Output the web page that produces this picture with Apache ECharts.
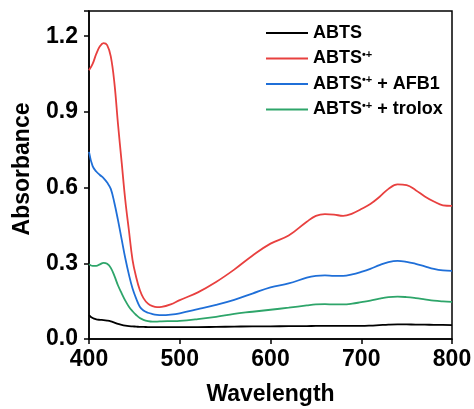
<!DOCTYPE html>
<html><head><meta charset="utf-8">
<script src="https://cdn.jsdelivr.net/npm/echarts@6/dist/echarts.min.js"></script>
<style>html,body{margin:0;padding:0;background:#fff}#c{width:474px;height:409px}</style>
</head><body><div id="c"></div>
<script>
const wavelength = [400,404,408,412,416,420,424,428,432,436,440,444,448,452,456,460,465,470,475,480,490,500,520,540,560,580,600,620,640,650,660,670,680,690,700,710,720,730,740,750,760,770,780,790,800];
const abts = [0.095,0.083,0.078,0.076,0.075,0.073,0.070,0.065,0.060,0.056,0.053,0.051,0.050,0.049,0.048,0.048,0.047,0.047,0.047,0.047,0.047,0.047,0.047,0.048,0.049,0.050,0.050,0.051,0.051,0.052,0.052,0.052,0.052,0.052,0.052,0.053,0.055,0.057,0.058,0.058,0.057,0.057,0.056,0.056,0.055];
const abtsRad = [1.065,1.09,1.13,1.16,1.173,1.165,1.12,1.014,0.85,0.70,0.55,0.43,0.313,0.245,0.194,0.162,0.140,0.130,0.126,0.127,0.137,0.154,0.185,0.226,0.275,0.330,0.378,0.410,0.465,0.488,0.495,0.493,0.488,0.497,0.515,0.535,0.563,0.595,0.613,0.610,0.590,0.565,0.545,0.530,0.528];
const abtsAfb1 = [0.742,0.685,0.664,0.650,0.638,0.620,0.595,0.539,0.470,0.395,0.320,0.255,0.200,0.160,0.128,0.113,0.104,0.099,0.096,0.095,0.097,0.102,0.118,0.135,0.155,0.180,0.205,0.220,0.243,0.250,0.252,0.250,0.250,0.256,0.266,0.278,0.293,0.305,0.310,0.306,0.298,0.288,0.278,0.272,0.270];
const abtsTrolox = [0.297,0.290,0.290,0.296,0.302,0.298,0.282,0.250,0.212,0.181,0.152,0.128,0.110,0.095,0.083,0.076,0.071,0.069,0.069,0.070,0.071,0.072,0.079,0.088,0.100,0.108,0.116,0.124,0.133,0.137,0.138,0.137,0.137,0.140,0.146,0.152,0.160,0.166,0.168,0.166,0.162,0.157,0.152,0.149,0.147];
const names = ['ABTS','ABTS•+','ABTS•+ + AFB1','ABTS•+ + trolox'];
const colors = ['#000000','#e8403f','#1f6fd8','#2ea56a'];
const xTicks = [400,500,600,700,800];
const yTicks = [0.0,0.3,0.6,0.9,1.2];

const ys = [abts, abtsRad, abtsAfb1, abtsTrolox];
const chart = echarts.init(document.getElementById('c'));
const font = 'Liberation Sans, Arial, sans-serif';
chart.setOption({
  animation:false,
  grid:{left:89,right:22,top:11,bottom:70,show:true,borderColor:'#000',borderWidth:1.5,containLabel:false,outerBoundsMode:'none'},
  legend:{
    orient:'vertical', left:261, top:19, itemWidth:42, itemHeight:14, itemGap:7,
    data:names.map(n=>({name:n,icon:'path://M0,0 L42,0 L42,2 L0,2 Z'})),
    formatter:function(n){
      if(n.indexOf('•+')<0) return '{b|'+n+'}';
      const parts = n.split('•+');
      return '{b|'+parts[0]+'}{s|•+}{b|'+parts[1]+'}';
    },
    textStyle:{fontFamily:font,fontWeight:'bold',fontSize:18,color:'#000',
      rich:{b:{fontFamily:font,fontWeight:'bold',fontSize:18,color:'#000'},
            s:{fontFamily:font,fontWeight:'bold',fontSize:11,color:'#000',verticalAlign:'top',padding:[0,0,8,0]}}}
  },
  xAxis:{type:'value',min:400,max:800,interval:100,
    name:'Wavelength',nameLocation:'middle',nameGap:44,
    nameTextStyle:{fontFamily:font,fontWeight:'bold',fontSize:23,color:'#000'},
    axisLine:{lineStyle:{color:'#000',width:1.5}},
    axisTick:{show:true,inside:false,length:5,lineStyle:{color:'#000',width:1.5}},
    axisLabel:{fontFamily:font,fontWeight:'bold',fontSize:23,color:'#000',margin:9,
      formatter:v=>xTicks.includes(v)?String(v):''},
    splitLine:{show:false}},
  yAxis:{type:'value',min:0,max:1.3,interval:0.3,
    name:'Absorbance',nameLocation:'middle',nameGap:55,
    nameTextStyle:{fontFamily:font,fontWeight:'bold',fontSize:23,color:'#000',padding:[0,0,0,12]},
    axisLine:{show:true,lineStyle:{color:'#000',width:1.5}},
    axisTick:{show:true,inside:false,length:5,lineStyle:{color:'#000',width:1.5}},
    axisLabel:{fontFamily:font,fontWeight:'bold',fontSize:23,color:'#000',margin:11,
      formatter:v=>{const t=yTicks.find(y=>Math.abs(y-v)<1e-6);return t===undefined?'':t.toFixed(1);}},
    splitLine:{show:false}},
  series:names.map((n,i)=>({
    name:n,type:'line',smooth:0.4,symbol:'none',
    lineStyle:{color:colors[i],width:1.8},itemStyle:{color:colors[i]},
    data:wavelength.map((w,j)=>[w,ys[i][j]])
  }))
});
</script></body></html>
